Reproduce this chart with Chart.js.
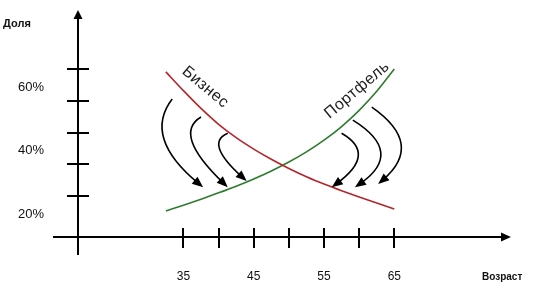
<!DOCTYPE html>
<html>
<head>
<meta charset="utf-8">
<script src="https://cdn.jsdelivr.net/npm/chart.js@4"></script>
<style>
  html, body { margin: 0; padding: 0; background: #fff; }
  canvas { display: block; }
</style>
</head>
<body>
<canvas id="chart" width="534" height="288"></canvas>
<script>
// ages along the curves
const ages = [32.5, 35, 37.5, 40, 42.5, 45, 47.5, 50, 52.5, 55, 57.5, 60, 62.5, 65];
// share of business capital (%)
const business = [59.1, 53.2, 47.6, 42.6, 38.4, 34.8, 31.6, 28.7, 26.1, 23.8, 21.7, 19.7, 17.8, 15.9];
// share of investment portfolio (%)
const portfolio = [15.3, 17.1, 19.0, 21.0, 23.1, 25.4, 27.9, 30.7, 33.9, 37.6, 41.9, 47.0, 53.0, 60.0];

const xTicks = [35, 40, 45, 50, 55, 60, 65];
const xLabels = ['35', '', '45', '', '55', '', '65'];
const yTicks = [20, 30, 40, 50, 60];
const yLabels = ['20%', '', '40%', '', '60%'];

// transfer arrows: [start, bend, end] in [age, %]
const arrows = [
    [[33.4, 50.6], [32.4, 37.6], [37.8, 22.8]],
    [[37.5, 44.9], [36.4, 36.7], [41.3, 22.8]],
    [[41.3, 39.8], [40.3, 34.5], [44.0, 24.7]],
    [[57.5, 39.8], [59.7, 32.3], [56.1, 22.8]],
    [[59.1, 43.9], [62.9, 33.5], [59.4, 22.8]],
    [[61.8, 48.0], [65.8, 36.1], [62.7, 23.8]]
];

const RED = '#b3262a';
const GREEN = '#2e7b2e';
const FONT = '"Liberation Sans", Arial, sans-serif';

const toPts = vals => ages.map((a, i) => ({ x: a, y: vals[i] }));

function arrowHead(ctx, x, y, ang, len, wid) {
    ctx.save();
    ctx.translate(x, y);
    ctx.rotate(ang);
    ctx.beginPath();
    ctx.moveTo(0, 0);
    ctx.lineTo(-len, -wid / 2);
    ctx.lineTo(-len, wid / 2);
    ctx.closePath();
    ctx.fill();
    ctx.restore();
}

function rotatedText(ctx, text, px, py, deg) {
    ctx.save();
    ctx.translate(px, py);
    ctx.rotate(deg * Math.PI / 180);
    ctx.fillText(text, 0, 0);
    ctx.restore();
}

const decorPlugin = {
    id: 'decor',
    afterDatasetsDraw(chart) {
        const { ctx, scales: { x, y } } = chart;
        const ox = x.getPixelForValue(x.min);
        const oy = y.getPixelForValue(y.min);
        const top = y.getPixelForValue(y.max);
        const right = x.getPixelForValue(x.max);

        ctx.save();
        ctx.strokeStyle = '#000';
        ctx.fillStyle = '#000';
        ctx.lineWidth = 2;

        // axes
        ctx.beginPath();
        ctx.moveTo(ox, oy + 18);
        ctx.lineTo(ox, top + 6);
        ctx.moveTo(ox - 25, oy);
        ctx.lineTo(right - 6, oy);
        ctx.stroke();
        arrowHead(ctx, ox, top, -Math.PI / 2, 9, 9);
        arrowHead(ctx, right, oy, 0, 10, 9);

        // tick marks crossing the axes
        ctx.beginPath();
        yTicks.forEach(v => {
            const py = Math.round(y.getPixelForValue(v));
            ctx.moveTo(ox - 11, py);
            ctx.lineTo(ox + 11, py);
        });
        xTicks.forEach(v => {
            const px = Math.round(x.getPixelForValue(v));
            ctx.moveTo(px, oy - 9);
            ctx.lineTo(px, oy + 11);
        });
        ctx.stroke();

        // tick labels
        ctx.fillStyle = '#111';
        ctx.font = '13px ' + FONT;
        ctx.textAlign = 'right';
        ctx.textBaseline = 'middle';
        yTicks.forEach((v, i) => {
            if (yLabels[i]) ctx.fillText(yLabels[i], 44, y.getPixelForValue(v) + 18);
        });
        ctx.textAlign = 'center';
        ctx.font = '12px ' + FONT;
        xTicks.forEach((v, i) => {
            if (xLabels[i]) ctx.fillText(xLabels[i], x.getPixelForValue(v), oy + 40);
        });

        // axis titles
        ctx.font = 'bold 11px ' + FONT;
        ctx.textAlign = 'left';
        ctx.fillText('Доля', 3, 24);
        ctx.font = 'bold 10px ' + FONT;
        ctx.fillText('Возраст', 482, oy + 40);

        // curved transfer arrows
        ctx.lineWidth = 1.6;
        ctx.fillStyle = '#000';
        arrows.forEach(([s, b, e]) => {
            const sx = x.getPixelForValue(s[0]), sy = y.getPixelForValue(s[1]);
            const bx = x.getPixelForValue(b[0]), by = y.getPixelForValue(b[1]);
            const ex = x.getPixelForValue(e[0]), ey = y.getPixelForValue(e[1]);
            const cx = 2 * bx - (sx + ex) / 2, cy = 2 * by - (sy + ey) / 2;
            const ang = Math.atan2(ey - cy, ex - cx);
            const stopX = ex - Math.cos(ang) * 6, stopY = ey - Math.sin(ang) * 6;
            ctx.beginPath();
            ctx.moveTo(sx, sy);
            ctx.quadraticCurveTo(cx, cy, stopX, stopY);
            ctx.stroke();
            arrowHead(ctx, ex, ey, ang, 11, 9);
        });

        // curve names
        ctx.fillStyle = '#222';
        ctx.font = '16px ' + FONT;
        ctx.letterSpacing = '0.5px';
        ctx.textAlign = 'center';
        ctx.textBaseline = 'middle';
        rotatedText(ctx, 'Бизнес', x.getPixelForValue(38.1), y.getPixelForValue(54.3), 40);
        rotatedText(ctx, 'Портфель', x.getPixelForValue(59.7), y.getPixelForValue(53.4), -40);

        ctx.restore();
    }
};

new Chart(document.getElementById('chart'), {
    type: 'line',
    data: {
        datasets: [
            { label: 'Бизнес', data: toPts(business), borderColor: RED, borderWidth: 1.6, pointRadius: 0, cubicInterpolationMode: 'monotone', fill: false },
            { label: 'Портфель', data: toPts(portfolio), borderColor: GREEN, borderWidth: 1.6, pointRadius: 0, cubicInterpolationMode: 'monotone', fill: false }
        ]
    },
    options: {
        responsive: false,
        animation: false,
        layout: { padding: { left: 78, right: 23, top: 10, bottom: 51 } },
        plugins: { legend: { display: false }, tooltip: { enabled: false } },
        scales: {
            x: { type: 'linear', min: 20, max: 81.6, display: false },
            y: { type: 'linear', min: 7.1, max: 78.6, display: false }
        }
    },
    plugins: [decorPlugin]
});
</script>
</body>
</html>
